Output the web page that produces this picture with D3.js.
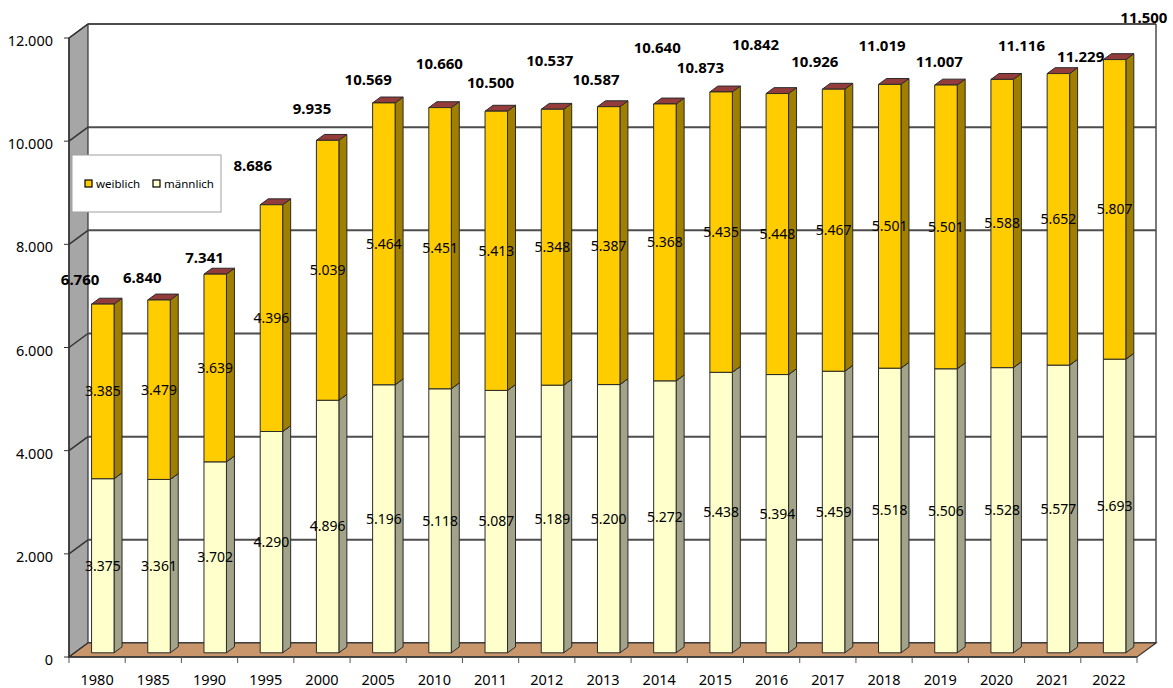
<!DOCTYPE html>
<html>
<head>
<meta charset="utf-8">
<script src="https://cdn.jsdelivr.net/npm/d3@7"></script>
<style>
  body { margin: 0; background: #fff; }
  text { font-family: "Noto Sans", "Open Sans", sans-serif; }
</style>
</head>
<body>
<div id="chart"></div>
<script>
// Data
const years = ["1980", "1985", "1990", "1995", "2000", "2005", "2010", "2011", "2012", "2013",
               "2014", "2015", "2016", "2017", "2018", "2019", "2020", "2021", "2022"];
const maennlich = [3375, 3361, 3702, 4290, 4896, 5196, 5118, 5087, 5189, 5200,
                   5272, 5438, 5394, 5459, 5518, 5506, 5528, 5577, 5693];
const weiblich = [3385, 3479, 3639, 4396, 5039, 5464, 5451, 5413, 5348, 5387,
                  5368, 5435, 5448, 5467, 5501, 5501, 5588, 5652, 5807];
// total labels as printed above the bars (2005 / 2010 appear swapped in the original)
const gesamt = [6760, 6840, 7341, 8686, 9935, 10569, 10660, 10500, 10537, 10587,
                10640, 10873, 10842, 10926, 11019, 11007, 11116, 11229, 11500];
const yTicks = [0, 2000, 4000, 6000, 8000, 10000, 12000];

// hand placement of the total labels in the original (pixels: dx from category, dy from bar top)
const labelNudge = [[-17, -24], [-11, -22], [-5, -16], [-13, -39], [-10, -32], [-10, -23], [5, -44],
                    [0, -28], [3, -49], [-7, -27], [-2, -56], [-15, -24], [-16, -49], [-13, -27],
                    [-2, -39], [-1, -23], [25, -34], [28, -17], [35, -42]];

const width = 1173, height = 688;
const depth = { x: 19, y: -14 };      // full depth of the 3d box
const barZ = [0.3, 0.72];             // bars sit in the middle of the depth

const svg = d3.select("#chart").append("svg")
    .attr("width", width)
    .attr("height", height);

const x = d3.scaleBand().domain(years).range([69, 1137]).paddingInner(0.6).paddingOuter(0.3);
const y = d3.scaleLinear().domain([0, 12000]).range([657, 38]);
const step = x.step();
const x0 = 69, x1 = 1137;

const fmt = v => d3.format(",")(v).replace(/,/g, ".");
const pt = (px, py, z) => [px + z * depth.x, py + z * depth.y];
const poly = pts => "M" + pts.map(p => p.join(",")).join("L") + "Z";

// back wall
svg.append("path")
    .attr("d", poly([pt(x0, y(0), 1), pt(x0, y(12000), 1), pt(x1, y(12000), 1), pt(x1, y(0), 1)]))
    .attr("fill", "#fff");

// left wall
svg.append("path")
    .attr("d", poly([pt(x0, y(0), 0), pt(x0, y(12000), 0), pt(x0, y(12000), 1), pt(x0, y(0), 1)]))
    .attr("fill", "#a6a6a6")
    .attr("stroke", "#333")
    .attr("stroke-width", 1.2);

// gridlines (back wall + left wall)
yTicks.forEach(v => {
    const a = pt(x0, y(v), 1), b = pt(x1, y(v), 1), c = pt(x0, y(v), 0);
    svg.append("line")
        .attr("x1", a[0]).attr("y1", a[1]).attr("x2", b[0]).attr("y2", b[1])
        .attr("stroke", "#4d4d4d").attr("stroke-width", 2);
    svg.append("line")
        .attr("x1", c[0]).attr("y1", c[1]).attr("x2", a[0]).attr("y2", a[1])
        .attr("stroke", "#333").attr("stroke-width", 1.5);
});

// right edge of back wall
svg.append("line")
    .attr("x1", x1 + depth.x).attr("y1", y(12000) + depth.y)
    .attr("x2", x1 + depth.x).attr("y2", y(0) + depth.y)
    .attr("stroke", "#4d4d4d").attr("stroke-width", 1.5);

// floor
svg.append("path")
    .attr("d", poly([pt(x0, y(0), 0), pt(x0, y(0), 1), pt(x1, y(0), 1), pt(x1, y(0), 0)]))
    .attr("fill", "#c9966b")
    .attr("stroke", "#333")
    .attr("stroke-width", 1.2);

// y axis
svg.append("line")
    .attr("x1", x0).attr("y1", y(0)).attr("x2", x0).attr("y2", y(12000))
    .attr("stroke", "#333").attr("stroke-width", 1.5);
svg.append("g").selectAll("line")
    .data(yTicks).enter().append("line")
    .attr("x1", x0 - 5).attr("x2", x0)
    .attr("y1", d => y(d)).attr("y2", d => y(d))
    .attr("stroke", "#333");
svg.append("g").selectAll("text")
    .data(yTicks).enter().append("text")
    .attr("x", 53)
    .attr("y", d => y(d) + 3)
    .attr("dy", ".35em")
    .style("text-anchor", "end")
    .style("font-size", "14.5px")
    .style("fill", "#000")
    .text(d => fmt(d));

// x axis
svg.append("line")
    .attr("x1", x0).attr("y1", y(0)).attr("x2", x1).attr("y2", y(0))
    .attr("stroke", "#333").attr("stroke-width", 1.5);
svg.append("g").selectAll("line")
    .data(d3.range(years.length + 1)).enter().append("line")
    .attr("x1", i => x0 + i * step).attr("x2", i => x0 + i * step)
    .attr("y1", y(0)).attr("y2", y(0) + 6)
    .attr("stroke", "#555");
svg.append("g").selectAll("text")
    .data(years).enter().append("text")
    .attr("x", d => x0 + (years.indexOf(d) + 0.5) * step)
    .attr("y", 680)
    .attr("dy", ".35em")
    .style("text-anchor", "middle")
    .style("font-size", "14.5px")
    .style("fill", "#000")
    .text(d => d);

// 3d bar segment
function bar3d(g, xl, xr, v0, v1, front, side, top) {
    const [za, zb] = barZ;
    const bl = pt(xl, y(v0), za), br = pt(xr, y(v0), za);
    const tl = pt(xl, y(v1), za), tr = pt(xr, y(v1), za);
    const trb = pt(xr, y(v1), zb), brb = pt(xr, y(v0), zb), tlb = pt(xl, y(v1), zb);
    g.append("path").attr("d", poly([br, tr, trb, brb])).attr("fill", side);
    g.append("path").attr("d", poly([tl, tlb, trb, tr])).attr("fill", top);
    g.append("path").attr("d", poly([bl, tl, tr, br])).attr("fill", front);
    g.selectAll("path").attr("stroke", "#2a2a2a").attr("stroke-width", 1).attr("stroke-linejoin", "round");
}

const bars = svg.append("g");
years.forEach((yr, i) => {
    const g = bars.append("g");
    const xl = x(yr), xr = x(yr) + x.bandwidth();
    bar3d(g, xl, xr, 0, maennlich[i], "#ffffcc", "#a3a38a", "#8c8c70");
    bar3d(g, xl, xr, maennlich[i], maennlich[i] + weiblich[i], "#ffcc00", "#a07f00", "#943c3c");
});

// segment labels
const zMid = barZ[0] * depth.x;
const segLabels = svg.append("g");
years.forEach((yr, i) => {
    const cx = x(yr) + x.bandwidth() / 2 + zMid;
    const off = barZ[0] * depth.y;
    segLabels.append("text")
        .attr("x", cx).attr("y", y(maennlich[i] / 2) + off)
        .attr("dy", ".35em")
        .style("text-anchor", "middle").style("font-size", "14px").style("fill", "#000")
        .text(fmt(maennlich[i]));
    segLabels.append("text")
        .attr("x", cx).attr("y", y(maennlich[i] + weiblich[i] / 2) + off)
        .attr("dy", ".35em")
        .style("text-anchor", "middle").style("font-size", "14px").style("fill", "#000")
        .text(fmt(weiblich[i]));
});

// total labels
svg.append("g").selectAll("text")
    .data(years).enter().append("text")
    .attr("x", (d, i) => x0 + (i + 0.5) * step + labelNudge[i][0])
    .attr("y", (d, i) => y(maennlich[i] + weiblich[i]) + barZ[0] * depth.y + labelNudge[i][1])
    .attr("dy", ".35em")
    .style("text-anchor", "middle")
    .style("font-size", "15px")
    .style("font-weight", "bold")
    .style("fill", "#000")
    .text((d, i) => fmt(gesamt[i]));

// legend
const legend = svg.append("g");
legend.append("rect")
    .attr("x", 72).attr("y", 155).attr("width", 149).attr("height", 57)
    .attr("fill", "#fff").attr("stroke", "#a0a0a0");
const legendItems = [{ name: "weiblich", color: "#ffcc00", x: 85 }, { name: "männlich", color: "#ffffcc", x: 153 }];
legendItems.forEach(d => {
    legend.append("rect")
        .attr("x", d.x).attr("y", 180).attr("width", 7).attr("height", 7)
        .attr("fill", d.color).attr("stroke", "#000").attr("stroke-width", 1.2);
    legend.append("text")
        .attr("x", d.x + 11).attr("y", 184)
        .attr("dy", ".35em")
        .style("font-size", "11.5px")
        .style("fill", "#000")
        .text(d.name);
});
</script>
</body>
</html>
